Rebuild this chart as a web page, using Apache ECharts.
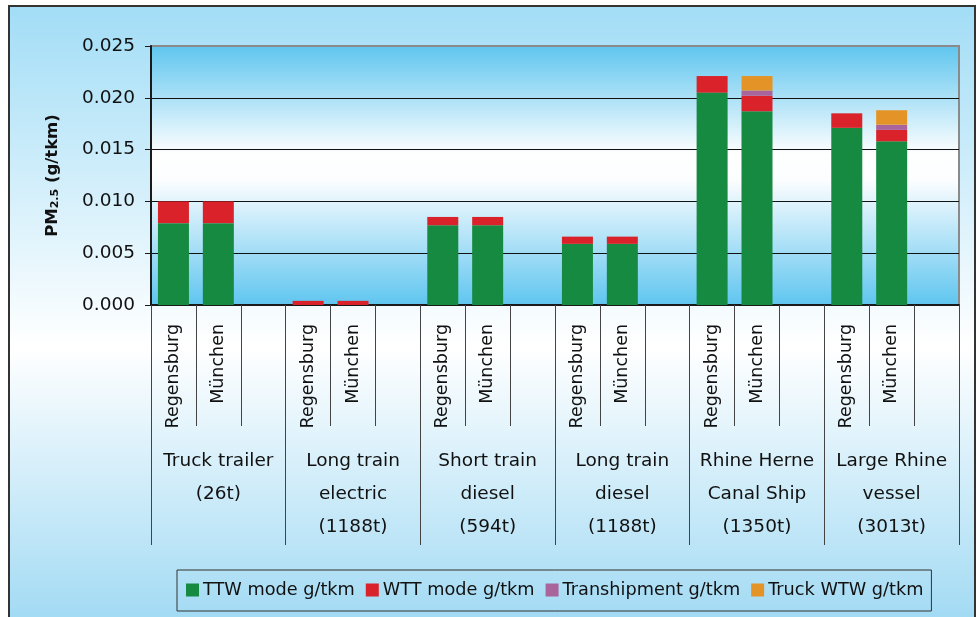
<!DOCTYPE html>
<html>
<head>
<meta charset="utf-8">
<title>PM2.5 emissions per tonne-km by transport mode</title>
<script src="https://cdn.jsdelivr.net/npm/echarts@6/dist/echarts.min.js"></script>
<style>
  html, body { margin: 0; padding: 0; background: #ffffff; }
  #frame {
    position: absolute; left: 8px; top: 5px; width: 964px; height: 630px;
    border: 2px solid #333;
    background: linear-gradient(to bottom, #a2ddf6 0%, #ffffff 54%, #9cd8f3 100%);
  }
  #chart { position: absolute; left: 0; top: 0; width: 977px; height: 617px; }
</style>
</head>
<body>
<div id="frame"></div>
<div id="chart"></div>
<script>
// Terminal (inner axis) labels: two routes per mode plus an empty spacer slot
const terminals = [
  'Regensburg', 'München', '',
  'Regensburg', 'München', '',
  'Regensburg', 'München', '',
  'Regensburg', 'München', '',
  'Regensburg', 'München', '',
  'Regensburg', 'München', ''
];

// Transport modes (outer axis labels)
const modes = [
  'Truck trailer\n(26t)',
  'Long train\nelectric\n(1188t)',
  'Short train\ndiesel\n(594t)',
  'Long train\ndiesel\n(1188t)',
  'Rhine Herne\nCanal Ship\n(1350t)',
  'Large Rhine\nvessel\n(3013t)'
];

const seriesNames = ['TTW mode g/tkm', 'WTT mode g/tkm', 'Transhipment g/tkm', 'Truck WTW g/tkm'];

// PM2.5 in g/tkm, one value per terminal slot
const ttw = [
  0.0079, 0.0079, null,
  0, 0, null,
  0.0077, 0.0077, null,
  0.0059, 0.0059, null,
  0.0205, 0.0187, null,
  0.0171, 0.0158, null
];
const wtt = [
  0.0021, 0.0021, null,
  0.0004, 0.0004, null,
  0.0008, 0.0008, null,
  0.0007, 0.0007, null,
  0.0016, 0.0015, null,
  0.0014, 0.0011, null
];
const transhipment = [
  0, 0, null,
  0, 0, null,
  0, 0, null,
  0, 0, null,
  0, 0.0005, null,
  0, 0.0005, null
];
const truckWtw = [
  0, 0, null,
  0, 0, null,
  0, 0, null,
  0, 0, null,
  0, 0.0014, null,
  0, 0.0014, null
];

const yTicks = { min: 0, max: 0.025, step: 0.005 };

const colors = ['#178a42', '#d9222a', '#a9649c', '#e49426'];
const FONT = 'DejaVu Sans';

const chart = echarts.init(document.getElementById('chart'), null, { renderer: 'canvas' });

const plotBg = new echarts.graphic.LinearGradient(0, 0, 0, 1, [
  { offset: 0, color: '#5ec5ef' },
  { offset: 0.42, color: '#ffffff' },
  { offset: 0.52, color: '#fbfdff' },
  { offset: 1, color: '#5ec5ef' }
]);

const valueSets = [ttw, wtt, transhipment, truckWtw];

chart.setOption({
  backgroundColor: 'transparent',
  animation: false,
  color: colors,
  textStyle: { fontFamily: FONT, color: '#111' },
  grid: {
    left: 151, right: 18, top: 46, bottom: 312,
    show: true,
    backgroundColor: plotBg,
    borderColor: '#8a8a8a',
    borderWidth: 2
  },
  legend: {
    left: 177, top: 570,
    padding: [11, 8, 12, 9],
    itemGap: 11,
    itemWidth: 13, itemHeight: 13,
    icon: 'rect',
    borderColor: '#333', borderWidth: 1,
    backgroundColor: 'transparent',
    textStyle: { fontFamily: FONT, fontSize: 17.7, color: '#111', padding: [0, 0, 0, -1] },
    data: seriesNames
  },
  xAxis: [
    {
      type: 'category',
      data: terminals,
      position: 'bottom',
      axisLine: { show: true, lineStyle: { color: '#1a1a1a', width: 2 } },
      axisTick: { show: true, length: 121, interval: 0, lineStyle: { color: '#444', width: 1 } },
      axisLabel: { interval: 0, rotate: 90, margin: 19, fontFamily: FONT, fontSize: 17.5, color: '#111' },
      splitLine: { show: false }
    },
    {
      type: 'category',
      data: modes,
      position: 'bottom',
      gridIndex: 0,
      axisLine: { show: false },
      axisTick: { show: true, length: 240, interval: 0, lineStyle: { color: '#444', width: 1 } },
      axisLabel: { interval: 0, margin: 140, fontFamily: FONT, fontSize: 18.5, lineHeight: 33, color: '#111' },
      splitLine: { show: false }
    }
  ],
  yAxis: {
    type: 'value',
    min: yTicks.min, max: yTicks.max, interval: yTicks.step,
    name: '{b|PM}{s|2.5}{b| (g/tkm)}',
    nameLocation: 'middle',
    nameRotate: 90,
    nameGap: 90,
    nameTextStyle: {
      rich: {
        b: { fontFamily: FONT, fontSize: 16.5, fontWeight: 'bold', color: '#111', lineHeight: 20, verticalAlign: 'bottom' },
        s: { fontFamily: FONT, fontSize: 11, fontWeight: 'bold', color: '#111', lineHeight: 20, verticalAlign: 'bottom' }
      }
    },
    axisLine: { show: true, lineStyle: { color: '#1a1a1a', width: 2 } },
    axisTick: { show: true, inside: false, length: 6, lineStyle: { color: '#1a1a1a' } },
    axisLabel: {
      margin: 16, fontFamily: FONT, fontSize: 18.5, color: '#111',
      formatter: v => v.toFixed(3)
    },
    splitLine: { show: true, showMaxLine: false, lineStyle: { color: '#111', width: 1 } }
  },
  series: seriesNames.map((name, i) => ({
    name: name,
    type: 'bar',
    stack: 'pm',
    xAxisIndex: 0,
    barWidth: 31,
    itemStyle: { color: colors[i] },
    data: valueSets[i]
  }))
});
</script>
</body>
</html>
